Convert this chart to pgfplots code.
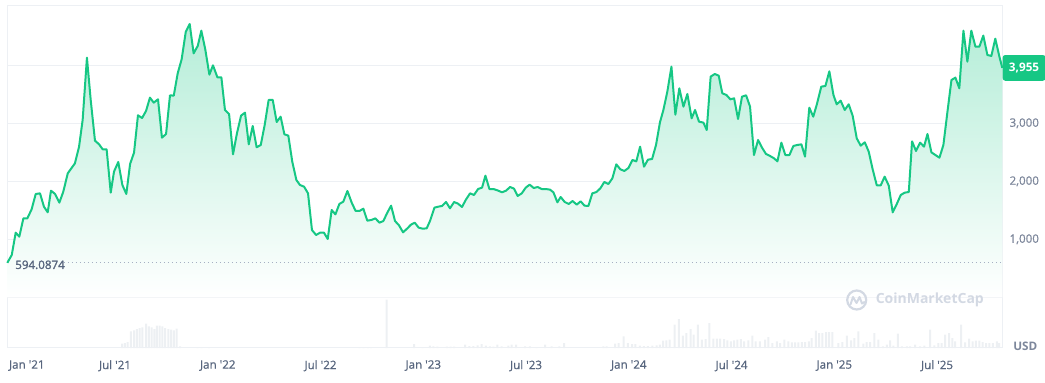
\documentclass[border=0pt]{standalone}
\usepackage{pgfplots}
\pgfplotsset{compat=1.18}
\usepackage{pgfplotstable}
\usepackage{fontspec}
\newfontfamily\cmc{Open Sans}
\newfontfamily\cmcm{Open Sans}[FakeBold=0.8]
\newfontfamily\cmcs{Open Sans}[FakeBold=1.5]
\definecolor{cmcgreen}{HTML}{16C784}
\definecolor{gridc}{HTML}{EDF0F4}
\definecolor{labc}{HTML}{58667E}
\definecolor{ytc}{HTML}{7D879B}
\definecolor{volc}{HTML}{EDF0F3}
\definecolor{wmc}{HTML}{D3D9E3}
\definecolor{dotc}{HTML}{A6B0C3}

\pgfplotstableread{
m p
-0.29 594
-0.03 729
0.20 1114
0.41 1045
0.65 1361
0.88 1361
1.13 1517
1.37 1781
1.62 1792
1.85 1563
2.07 1465
2.26 1838
2.50 1781
2.75 1632
2.98 1821
3.24 2137
3.66 2310
3.90 2597
4.11 3057
4.36 4131
4.58 3402
4.83 2700
5.07 2637
5.28 2551
5.51 2551
5.75 1804
5.94 2166
6.19 2333
6.43 1936
6.66 1781
6.88 2298
7.11 2494
7.34 3137
7.58 3091
7.81 3212
8.04 3442
8.26 3356
8.51 3413
8.74 2752
8.98 2815
9.21 3482
9.43 3476
9.66 3861
9.89 4103
10.13 4574
10.36 4712
10.59 4206
10.83 4333
11.04 4597
11.27 4275
11.51 3838
11.72 3999
11.98 3792
12.21 3792
12.42 3229
12.66 3160
12.89 2465
13.12 2827
13.36 3132
13.59 3183
13.81 2637
14.04 2953
14.27 2586
14.51 2626
14.74 2971
14.97 3402
15.21 3402
15.44 3022
15.67 3114
15.89 2810
16.12 2787
16.35 2338
16.59 2022
16.80 1936
17.04 1907
17.27 1792
17.50 1160
17.74 1074
17.97 1114
18.20 1114
18.42 1005
18.65 1505
18.87 1430
19.10 1609
19.33 1649
19.57 1833
19.82 1632
20.05 1488
20.27 1488
20.50 1528
20.73 1321
20.97 1333
21.20 1361
21.44 1287
21.67 1315
21.88 1448
22.12 1580
22.35 1315
22.58 1241
22.82 1120
23.05 1183
23.28 1252
23.50 1287
23.73 1201
23.97 1183
24.20 1189
24.39 1315
24.65 1545
24.88 1563
25.09 1574
25.33 1643
25.56 1534
25.80 1643
26.03 1614
26.26 1557
26.50 1689
26.73 1792
26.96 1764
27.20 1867
27.43 1890
27.63 2097
27.86 1867
28.09 1867
28.33 1844
28.60 1810
28.83 1838
29.07 1902
29.30 1873
29.51 1747
29.75 1792
29.98 1890
30.21 1942
30.45 1884
30.68 1902
30.91 1867
31.15 1867
31.40 1856
31.60 1810
31.83 1637
32.02 1729
32.26 1643
32.49 1609
32.72 1660
32.96 1597
33.19 1655
33.41 1580
33.64 1574
33.87 1792
34.11 1815
34.34 1879
34.57 1988
34.81 1953
35.04 2051
35.27 2292
35.51 2206
35.74 2178
35.98 2229
36.21 2367
36.44 2344
36.66 2597
36.89 2252
37.12 2373
37.36 2384
37.59 2626
37.82 3017
38.02 3229
38.25 3545
38.49 3976
38.72 3149
38.95 3603
39.19 3287
39.42 3505
39.67 3086
39.87 3229
40.10 3028
40.36 3011
40.55 2884
40.78 3804
41.02 3850
41.25 3821
41.46 3517
41.70 3488
41.93 3413
42.15 3430
42.38 3074
42.61 3459
42.85 3482
43.08 3287
43.31 2453
43.55 2712
43.78 2580
44.01 2471
44.25 2436
44.48 2396
44.68 2344
44.91 2666
45.14 2453
45.38 2453
45.61 2609
45.84 2626
46.08 2637
46.29 2425
46.54 3269
46.77 3114
46.97 3315
47.24 3632
47.48 3643
47.71 3896
47.95 3488
48.14 3327
48.37 3390
48.61 3229
48.84 3327
49.07 3132
49.31 2741
49.54 2614
49.78 2672
50.01 2511
50.24 2206
50.48 1930
50.71 1930
50.94 2080
51.18 1925
51.41 1465
51.64 1603
51.88 1764
52.11 1804
52.35 1815
52.54 2689
52.77 2522
53.01 2666
53.24 2597
53.44 2815
53.67 2499
53.90 2453
54.14 2407
54.37 2626
54.60 3183
54.84 3746
55.07 3787
55.30 3603
55.54 4597
55.77 4063
56.00 4597
56.24 4321
56.47 4321
56.70 4511
56.94 4177
57.17 4160
57.40 4459
57.64 4149
57.81 3955
}\pricedata

\pgfplotstableread{
m v
6.41 13
6.58 15
6.74 18
6.92 50
7.11 53
7.27 57
7.44 60
7.60 62
7.81 73
7.97 65
8.14 62
8.30 57
8.45 67
8.61 67
8.76 65
8.92 60
9.12 57
9.27 55
9.43 53
9.60 58
9.80 5
10.81 3
11.06 3
11.49 3
20.27 3
20.50 3
20.76 3
20.95 3
21.86 145
23.46 12
23.95 3
24.39 7
24.59 5
24.82 4
25.37 4
25.60 4
25.80 4
26.44 10
26.69 6
26.92 6
27.18 8
27.41 12
27.66 7
27.89 5
28.09 4
28.32 10
28.58 5
28.97 7
29.16 10
29.42 10
29.94 5
30.23 5
30.62 3
31.11 10
31.50 5
31.95 5
32.22 15
34.51 5
34.71 5
35.20 13
35.40 15
35.70 35
35.94 15
36.19 12
36.39 12
36.64 7
36.88 6
37.11 6
37.37 7
37.62 8
37.81 10
38.01 22
38.20 23
38.39 25
38.67 70
38.92 87
39.16 37
39.36 45
39.61 57
39.79 40
40.03 70
40.26 25
40.49 27
40.70 75
40.94 28
41.14 28
41.33 28
41.56 27
41.76 23
41.96 20
42.15 23
42.34 25
42.54 27
42.73 20
42.98 23
43.22 37
43.41 20
43.66 20
43.96 25
44.15 33
44.38 15
44.64 20
44.83 15
45.08 25
45.32 20
45.52 17
45.71 17
45.90 17
46.10 18
46.29 18
46.51 20
46.68 30
46.92 52
47.11 45
47.30 45
47.52 48
47.69 48
47.89 48
48.24 15
48.47 18
48.73 37
48.98 23
49.17 30
49.40 50
49.70 13
49.89 18
50.09 18
50.34 45
50.58 25
50.83 5
51.07 10
51.26 23
51.45 7
51.71 43
51.94 5
52.23 5
52.42 5
52.72 10
53.01 5
53.26 7
53.59 55
53.84 8
54.08 15
54.27 15
54.47 40
54.70 45
54.89 30
55.05 20
55.40 70
55.64 17
55.87 28
56.07 20
56.26 22
56.47 22
56.66 18
56.87 15
57.06 15
57.26 15
57.49 20
57.62 15
}\voldata

\begin{document}
\begin{tikzpicture}[x=0.75pt,y=0.75pt]
\useasboundingbox (0,0) rectangle (1045,382);
% volume panel
\begin{axis}[at={(5.475pt,25.5pt)}, anchor=south west, scale only axis,
  width=746.25pt, height=37.5pt,
  xmin=-0.29, xmax=57.81, ymin=0, ymax=150,
  axis lines=none, ybar, bar width=1.5pt]
\addplot[fill=volc, draw=none] table[x=m,y=v]{\voldata};
\end{axis}
% price panel
\begin{axis}[at={(5.475pt,25.5pt)}, anchor=south west, scale only axis,
  width=746.25pt, height=256.5pt,
  xmin=-0.29, xmax=57.81, ymin=-874, ymax=5022,
  clip=false,
  axis line style={gridc, line width=0.75pt},
  ytick={0,1000,2000,3000,4000},
  yticklabels={,{1,000},{2,000},{3,000},},
  ymajorgrids, grid style={gridc, line width=0.75pt},
  major tick length=0pt,
  yticklabel pos=right,
  yticklabel style={anchor=west, inner sep=0pt, xshift=5.25pt,
    font=\cmcm\fontsize{8.7}{10}\selectfont, text=ytc},
  xtick={6,12,...,54},
  xticklabels={Jul '21,Jan '22,Jul '22,Jan '23,Jul '23,Jan '24,Jul '24,Jan '25,Jul '25},
  extra x ticks={0.85}, extra x tick labels={Jan '21},
  xticklabel style={anchor=north, inner sep=0pt, yshift=-9pt,
    font=\cmcm\fontsize{8.7}{10}\selectfont, text=labc},
  ]
\addplot[draw=none, top color=cmcgreen!32, bottom color=white] table[x=m,y=p]{\pricedata} \closedcycle;
\addplot[cmcgreen, line width=1.5pt, line join=round] table[x=m,y=p]{\pricedata};
\addplot[dotc, line width=0.75pt, dash pattern=on 0.75pt off 2.25pt] coordinates {(3.02,594.0874) (57.81,594.0874)};
\node[anchor=west, inner sep=0pt, font=\cmcs\fontsize{8.7}{10}\selectfont, text=labc] at (axis cs:0.16,560) {594.0874};
\node[anchor=west, fill=cmcgreen, text=white, rounded corners=2pt, minimum width=32.25pt, minimum height=19.3pt, inner sep=0pt,
  font=\cmc\bfseries\fontsize{8.8}{10}\selectfont] at (axis cs:57.81,3955) {3,955};
\end{axis}
% watermark
\draw[wmc, line width=1.65pt] (856.7,82) circle (9.5);
\draw[wmc, line width=1.5pt, line cap=round, line join=round] (850.5,77.5) -- (853,85) -- (856.5,79) -- (859.5,85) -- (862,78.5) -- (864.5,80);
\node[anchor=west, inner sep=0pt, text=wmc, font=\cmc\bfseries\fontsize{10.5}{12}\selectfont] at (875.5,82) {CoinMarketCap};
\node[anchor=west, inner sep=0pt, text=ytc, font=\cmc\bfseries\fontsize{8.8}{10}\selectfont] at (1013,36) {USD};
\end{tikzpicture}
\end{document}
